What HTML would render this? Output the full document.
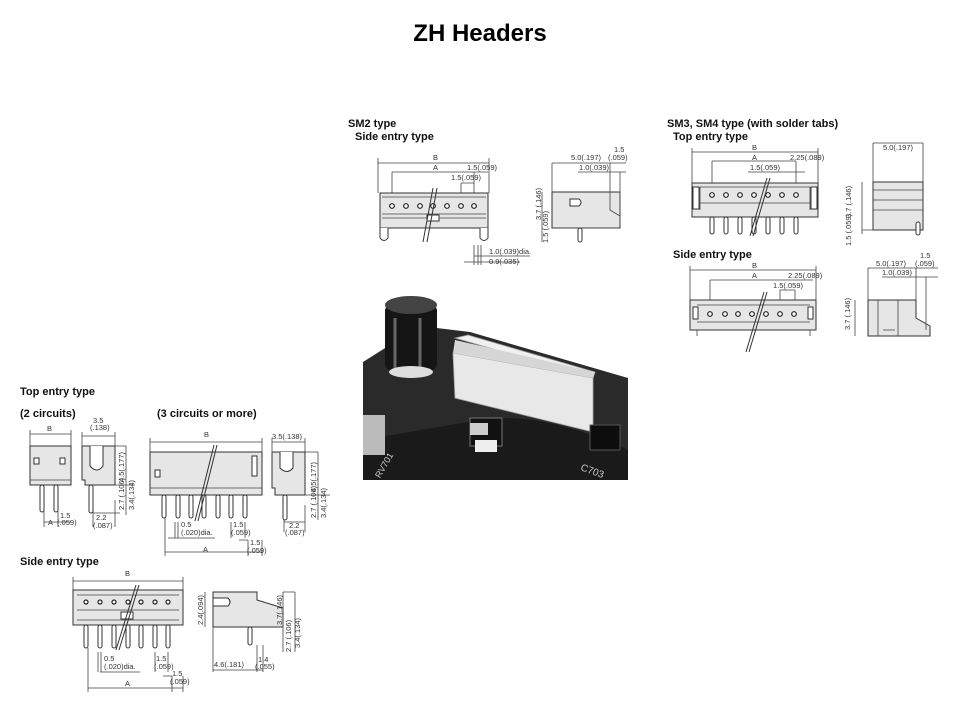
<!DOCTYPE html>
<html><head><meta charset="utf-8"><style>
html,body{margin:0;padding:0;background:#fff;}
svg{display:block;font-family:"Liberation Sans",sans-serif;}
.h{font-weight:bold;font-size:11px;fill:#111}
.d{font-size:7.5px;fill:#333}
.l{stroke:#444;stroke-width:0.8;fill:none}
.b{stroke:#333;stroke-width:1;fill:#e6e6e6}
.w{stroke:#333;stroke-width:1;fill:#fff}
.c{stroke:#222;stroke-width:1.2;fill:#fff}
</style></head><body>
<svg width="960" height="720" viewBox="0 0 960 720">
<text x="480" y="41" text-anchor="middle" font-size="24" font-weight="bold" fill="#000">ZH Headers</text>

<!-- SM2 -->
<text class="h" x="348" y="127">SM2 type</text>
<text class="h" x="355" y="140">Side entry type</text>
<path class="l" d="M378 163H489M378 158V193M489 158V193M392 172H488M392 172V206M474 172V206M461 183H474M461 183V193M474 183V193"/>
<text class="d" x="433" y="160">B</text><text class="d" x="433" y="170">A</text>
<text class="d" x="467" y="170">1.5(.059)</text><text class="d" x="451" y="180">1.5(.059)</text>
<rect class="b" x="380" y="193" width="108" height="35"/>
<path class="l" d="M382 197H486M382 214H486M382 218H486"/>
<rect class="w" x="427" y="215" width="12" height="6"/>
<g class="c"><circle cx="392" cy="206" r="2.3"/><circle cx="406" cy="206" r="2.3"/><circle cx="420" cy="206" r="2.3"/><circle cx="433" cy="206" r="2.3"/><circle cx="447" cy="206" r="2.3"/><circle cx="461" cy="206" r="2.3"/><circle cx="474" cy="206" r="2.3"/></g>
<path class="w" d="M380 228V238Q384 243 388 238V228M480 228V238Q484 243 488 238V228"/>
<path d="M433 188L423 242M437 188L427 242" stroke="#333" stroke-width="1" fill="none"/>
<path class="l" d="M474 245V265M478 245V265M481 245V265M474 256H530M464 262H520"/>
<text class="d" x="489" y="254">1.0(.039)dia.</text><text class="d" x="489" y="264">0.9(.035)</text>
<path class="b" d="M552 192H620V228H552Z"/>
<path class="w" d="M570 199H579Q583 202 579 206H570Z"/>
<path class="l" d="M610 192V210L620 216M552 228H620M580 228V242M552 163H626M552 163V192M610 163V192M578 172H626M620 172V225M542 192V242"/>
<text class="d" x="571" y="160">5.0(.197)</text><text class="d" x="614" y="152">1.5</text><text class="d" x="608" y="160">(.059)</text><text class="d" x="579" y="170">1.0(.039)</text>
<text class="d" transform="translate(541,220) rotate(-90)">3.7 (.146)</text>
<text class="d" transform="translate(548,243) rotate(-90)">1.5 (.059)</text>
<rect class="w" x="578" y="228" width="4" height="14" rx="2"/>

<!-- SM3/SM4 -->
<text class="h" x="667" y="127">SM3, SM4 type (with solder tabs)</text>
<text class="h" x="673" y="140">Top entry type</text>
<path class="l" d="M692 152H818M692 148V183M818 148V183M712 161H796M712 161V195M796 161V195M748 172H805"/>
<text class="d" x="752" y="150">B</text><text class="d" x="752" y="160">A</text>
<text class="d" x="790" y="160">2.25(.089)</text><text class="d" x="750" y="170">1.5(.059)</text>
<rect class="b" x="692" y="183" width="126" height="34"/>
<path class="l" d="M700 187H810M700 203H810M700 187V210M810 187V210"/>
<rect class="w" x="693" y="187" width="6" height="22"/><rect class="w" x="811" y="187" width="6" height="22"/>
<g class="c"><circle cx="712" cy="195" r="2.3"/><circle cx="726" cy="195" r="2.3"/><circle cx="740" cy="195" r="2.3"/><circle cx="754" cy="195" r="2.3"/><circle cx="768" cy="195" r="2.3"/><circle cx="782" cy="195" r="2.3"/><circle cx="796" cy="195" r="2.3"/></g>
<g class="w"><rect x="710" y="217" width="4" height="17" rx="2"/><rect x="724" y="217" width="4" height="17" rx="2"/><rect x="738" y="217" width="4" height="17" rx="2"/><rect x="752" y="217" width="4" height="17" rx="2"/><rect x="766" y="217" width="4" height="17" rx="2"/><rect x="780" y="217" width="4" height="17" rx="2"/><rect x="794" y="217" width="4" height="17" rx="2"/></g>
<path d="M767 178L750 236M770 178L753 236" stroke="#333" stroke-width="1" fill="none"/>
<rect class="b" x="873" y="182" width="50" height="48"/>
<path class="l" d="M873 143H923M873 143V182M923 143V182M873 190H923M873 200H923M873 210H923M862 182V234M862 230H880"/>
<text class="d" x="883" y="150">5.0(.197)</text>
<text class="d" transform="translate(851,218) rotate(-90)">3.7 (.146)</text>
<text class="d" transform="translate(851,246) rotate(-90)">1.5 (.059)</text>
<rect class="w" x="916" y="222" width="4" height="13" rx="2"/>

<text class="h" x="673" y="258">Side entry type</text>
<path class="l" d="M690 270H816M690 266V300M816 266V300M710 280H813M710 280V314M780 290H795M780 290V300M795 290V300"/>
<text class="d" x="752" y="268">B</text><text class="d" x="752" y="278">A</text>
<text class="d" x="788" y="278">2.25(.089)</text><text class="d" x="773" y="288">1.5(.059)</text>
<rect class="b" x="690" y="300" width="126" height="30"/>
<path class="l" d="M697 305H810M697 322H810M697 330V336M810 330V336"/>
<rect class="w" x="693" y="307" width="5" height="12"/><rect class="w" x="808" y="307" width="5" height="12"/>
<g class="c"><circle cx="710" cy="314" r="2.3"/><circle cx="725" cy="314" r="2.3"/><circle cx="738" cy="314" r="2.3"/><circle cx="752" cy="314" r="2.3"/><circle cx="766" cy="314" r="2.3"/><circle cx="780" cy="314" r="2.3"/><circle cx="794" cy="314" r="2.3"/></g>
<path d="M764 292L746 352M767 292L749 352" stroke="#333" stroke-width="1" fill="none"/>
<path class="b" d="M868 300H916V318L930 326V336H868Z"/>
<path class="l" d="M878 300V336M898 300V336M883 330H895M868 268H938M868 268V300M916 268V300M882 277H938M926 277V330M855 300V336"/>
<text class="d" x="876" y="266">5.0(.197)</text><text class="d" x="920" y="258">1.5</text><text class="d" x="915" y="266">(.059)</text><text class="d" x="882" y="275">1.0(.039)</text>
<text class="d" transform="translate(850,330) rotate(-90)">3.7 (.146)</text>

<!-- Photo -->
<rect x="363" y="295" width="265" height="185" fill="#fff"/>
<path d="M363 362L420 326L470 332L628 378V480H363Z" fill="#2a2a2a"/>
<path d="M363 440Q420 430 480 420T628 450V480H363Z" fill="#1a1a1a"/>
<rect x="385" y="305" width="52" height="65" rx="6" fill="#151515"/>
<ellipse cx="411" cy="305" rx="26" ry="9" fill="#444"/>
<path d="M395 318V370M420 318V370" stroke="#666" stroke-width="3"/>
<ellipse cx="411" cy="372" rx="22" ry="6" fill="#ddd"/>
<path d="M455 338L468 335L595 372L593 378Z" fill="#f0f0f0" stroke="#999" stroke-width="0.8"/>
<path d="M453 353L593 378V432L455 398Z" fill="#e8e8e8" stroke="#aaa" stroke-width="0.8"/>
<path d="M455 340L453 353L593 378L595 372Z" fill="#d6d6d6"/>
<rect x="363" y="415" width="22" height="40" fill="#bbb"/>
<rect x="470" y="418" width="32" height="28" fill="#111" stroke="#777"/>
<rect x="475" y="440" width="22" height="12" fill="#eee"/>
<rect x="470" y="423" width="18" height="12" fill="#ccc"/>
<rect x="590" y="425" width="30" height="25" fill="#0d0d0d" stroke="#555"/>
<text x="580" y="470" fill="#ccc" font-size="10" transform="rotate(20 580 470)">C703</text>
<text x="375" y="470" fill="#ccc" font-size="9" transform="rotate(-60 385 470)">RV701</text>

<!-- Bottom-left -->
<text class="h" x="20" y="395">Top entry type</text>
<text class="h" x="20" y="417">(2 circuits)</text>
<text class="h" x="157" y="417">(3 circuits or more)</text>
<path class="l" d="M30 434H71M30 430V446M71 430V446"/>
<text class="d" x="47" y="431">B</text>
<rect class="b" x="30" y="446" width="41" height="39"/>
<path class="l" d="M30 480H71"/>
<rect class="w" x="34" y="458" width="5" height="6"/><rect class="w" x="60" y="458" width="5" height="6"/>
<g class="w"><rect x="40" y="485" width="4" height="27" rx="2"/><rect x="54" y="485" width="4" height="27" rx="2"/></g>
<path class="l" d="M44 510V527M58 510V527M44 522H71"/>
<text class="d" x="48" y="525">A</text><text class="d" x="60" y="518">1.5</text><text class="d" x="57" y="525">(.059)</text>
<path class="b" d="M82 446H115V485H85V480H82Z"/>
<path class="w" d="M90 446V466Q97 474 103 466V446"/>
<path class="l" d="M82 436H115M82 432V446M115 432V446M115 446H126M126 446V515M115 485H135M93 513H120M93 500V527M115 500V527"/>
<text class="d" x="93" y="423">3.5</text><text class="d" x="90" y="430">(.138)</text>
<rect class="w" x="89" y="485" width="4" height="28" rx="2"/>
<text class="d" transform="translate(124,482) rotate(-90)">4.5(.177)</text>
<text class="d" transform="translate(124,510) rotate(-90)">2.7 (.106)</text>
<text class="d" transform="translate(134,510) rotate(-90)">3.4(.134)</text>
<text class="d" x="96" y="520">2.2</text><text class="d" x="93" y="528">(.087)</text>

<path class="l" d="M150 442H262M150 438V452M262 438V452"/>
<text class="d" x="204" y="437">B</text>
<rect class="b" x="150" y="452" width="112" height="43"/>
<path class="l" d="M150 488H262"/>
<rect class="w" x="155" y="470" width="5" height="7"/><rect class="w" x="252" y="456" width="5" height="20"/>
<g class="w"><rect x="162" y="495" width="4" height="23" rx="2"/><rect x="176" y="495" width="4" height="23" rx="2"/><rect x="189" y="495" width="4" height="23" rx="2"/><rect x="202" y="495" width="4" height="23" rx="2"/><rect x="216" y="495" width="4" height="23" rx="2"/><rect x="229" y="495" width="4" height="23" rx="2"/><rect x="243" y="495" width="4" height="23" rx="2"/></g>
<path d="M214 445L195 521M217 445L198 521" stroke="#333" stroke-width="1" fill="none"/>
<path class="l" d="M165 518V556M175 522V538M178 522V538M231 522V538M245 522V538M239 540H248M248 540V556M262 540V556M165 552H262M168 538H215"/>
<text class="d" x="181" y="527">0.5</text><text class="d" x="181" y="535">(.020)dia.</text>
<text class="d" x="233" y="527">1.5</text><text class="d" x="231" y="535">(.059)</text>
<text class="d" x="250" y="545">1.5</text><text class="d" x="247" y="553">(.059)</text>
<text class="d" x="203" y="552">A</text>
<path class="b" d="M272 452H305V495H275V488H272Z"/>
<path class="w" d="M280 452V468Q287 475 293 468V452"/>
<path class="l" d="M272 442H305M272 438V452M305 438V452M305 452H318M318 452V520M305 495H330M284 522H305M284 505V532M305 505V532"/>
<text class="d" x="272" y="439">3.5(.138)</text>
<rect class="w" x="283" y="495" width="4" height="25" rx="2"/>
<text class="d" transform="translate(316,492) rotate(-90)">4.5(.177)</text>
<text class="d" transform="translate(316,518) rotate(-90)">2.7 (.106)</text>
<text class="d" transform="translate(326,518) rotate(-90)">3.4(.134)</text>
<text class="d" x="289" y="528">2.2</text><text class="d" x="285" y="535">(.087)</text>

<text class="h" x="20" y="565">Side entry type</text>
<path class="l" d="M73 581H183M73 577V590M183 577V590"/>
<text class="d" x="125" y="576">B</text>
<rect class="b" x="73" y="590" width="110" height="35"/>
<path class="l" d="M77 595H179M77 610H179M77 620H179"/>
<rect class="w" x="121" y="612" width="12" height="7"/>
<g class="c"><circle cx="86" cy="602" r="2"/><circle cx="100" cy="602" r="2"/><circle cx="114" cy="602" r="2"/><circle cx="128" cy="602" r="2"/><circle cx="141" cy="602" r="2"/><circle cx="155" cy="602" r="2"/><circle cx="168" cy="602" r="2"/></g>
<g class="w"><rect x="84" y="625" width="4" height="23" rx="2"/><rect x="98" y="625" width="4" height="23" rx="2"/><rect x="112" y="625" width="4" height="23" rx="2"/><rect x="126" y="625" width="4" height="23" rx="2"/><rect x="139" y="625" width="4" height="23" rx="2"/><rect x="153" y="625" width="4" height="23" rx="2"/><rect x="166" y="625" width="4" height="23" rx="2"/></g>
<path d="M136 585L116 650M139 585L119 650" stroke="#333" stroke-width="1" fill="none"/>
<path class="l" d="M88 648V692M98 652V672M101 652V672M155 652V672M168 652V672M163 676H172M172 676V692M183 676V692M88 688H183M100 672H140"/>
<text class="d" x="104" y="661">0.5</text><text class="d" x="104" y="669">(.020)dia.</text>
<text class="d" x="156" y="661">1.5</text><text class="d" x="154" y="669">(.059)</text>
<text class="d" x="172" y="676">1.5</text><text class="d" x="170" y="684">(.059)</text>
<text class="d" x="125" y="686">A</text>
<path class="b" d="M213 592H257V600L283 608V627H213Z"/>
<path class="w" d="M213 598H228Q232 602 228 606H213Z"/>
<path class="l" d="M283 592V652M213 627V672M257 645V672M263 645V672M213 670H263M283 592H295M295 592V652M205 592V627"/>
<rect class="w" x="248" y="627" width="4" height="18" rx="2"/>
<text class="d" transform="translate(203,625) rotate(-90)">2.4(.094)</text>
<text class="d" transform="translate(282,625) rotate(-90)">3.7(.146)</text>
<text class="d" transform="translate(291,652) rotate(-90)">2.7 (.106)</text>
<text class="d" transform="translate(300,648) rotate(-90)">3.4(.134)</text>
<text class="d" x="214" y="667">4.6(.181)</text>
<text class="d" x="258" y="662">1.4</text><text class="d" x="255" y="669">(.055)</text>
</svg>
</body></html>
